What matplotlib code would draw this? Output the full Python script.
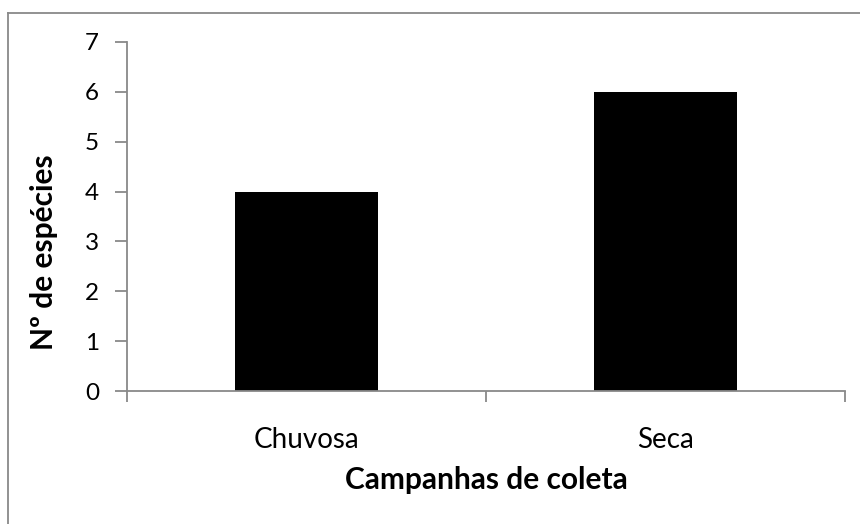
import matplotlib.pyplot as plt
from matplotlib.lines import Line2D

# data
campanhas = ['Chuvosa', 'Seca']
especies = [4, 6]

plt.rcParams['font.family'] = ['Lato', 'DejaVu Sans']

fig = plt.figure(figsize=(8.6, 5.24), dpi=100)
ax = fig.add_axes([127 / 860, 1 - 391 / 524, 718 / 860, 349 / 524])

x = range(len(campanhas))
ax.bar(x, especies, width=0.4, color='black')

ax.set_xlim(-0.5, len(campanhas) - 0.5)
ax.set_ylim(0, 7)
ax.set_yticks(range(0, 8))
ax.set_xticks([-0.5, 0.5, 1.5], minor=False)
ax.set_xticklabels([])
ax.set_xticks(list(x), minor=True)
ax.set_xticklabels(campanhas, minor=True)

gray = '#898989'
for s in ['top', 'right']:
    ax.spines[s].set_visible(False)
for s in ['left', 'bottom']:
    ax.spines[s].set_color(gray)
    ax.spines[s].set_linewidth(1.3)

ax.tick_params(axis='y', which='major', direction='out', length=9, width=1.3,
               color=gray, labelsize=17.5, pad=11)
ax.tick_params(axis='x', which='major', direction='out', length=8, width=1.3,
               color=gray)
ax.tick_params(axis='x', which='minor', length=0, labelsize=20, pad=26)

ax.set_xlabel('Campanhas de coleta', fontsize=21.5, fontweight='bold', va='center')
ax.xaxis.set_label_coords(0.5, (391 - 480) / 349)
ax.set_ylabel('Nº de espécies', fontsize=21.5, fontweight='bold', va='center')
ax.yaxis.set_label_coords((44 - 127) / 718, (391 - 252) / 349)

# outer chart border (left and top edges visible)
fig.add_artist(Line2D([8 / 860, 8 / 860], [0, 1 - 13 / 524], transform=fig.transFigure,
                      color=gray, linewidth=1.3))
fig.add_artist(Line2D([8 / 860, 1], [1 - 13 / 524, 1 - 13 / 524], transform=fig.transFigure,
                      color=gray, linewidth=1.3))

fig.savefig('out.png', dpi=100)
